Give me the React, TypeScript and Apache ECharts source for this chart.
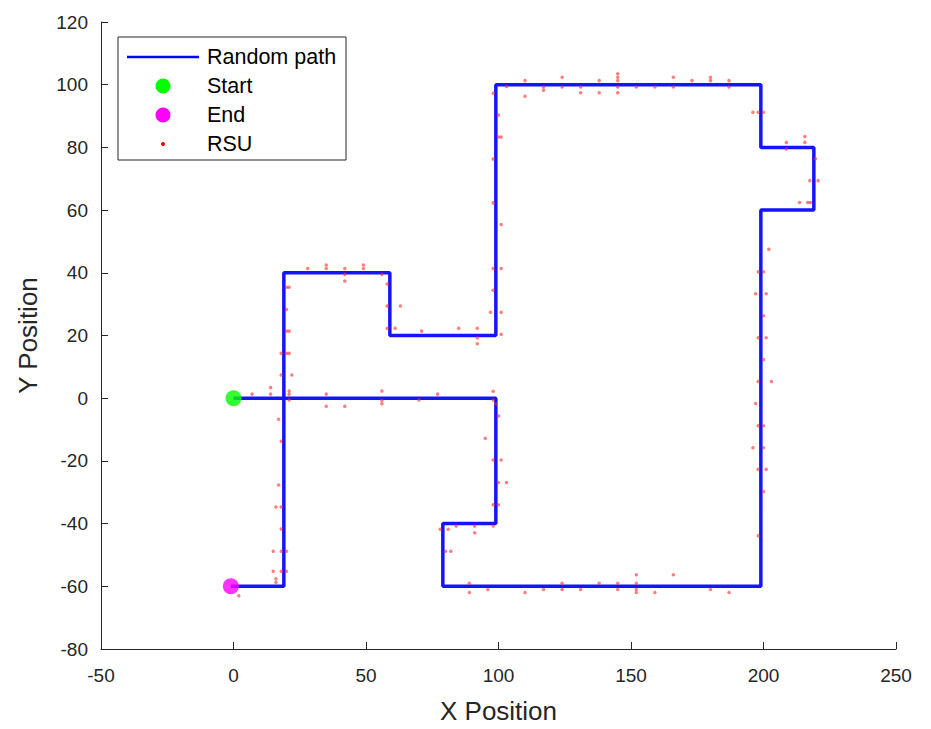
import React, { useEffect, useRef } from "react";
import * as echarts from "echarts";

// Path vertices (random walk corners)
const pathX = [0, 99, 99, 79, 79, 199, 199, 219, 219, 199, 199, 99, 99, 59, 59, 19, 19, -1];
const pathY = [0, 0, -40, -40, -60, -60, 60, 60, 80, 80, 100, 100, 20, 20, 40, 40, -60, -60];

const startPoint = [0, 0];
const endPoint = [-1, -60];

// RSU positions
const rsuX = [
  18, 22, 14, 7, 14, 21, 21, 21, 17, 18, 17, 16, 18, 18, 15, 18, 20, 15, 18, 20, 16, 16, 2,
  20, 21, 20, 20, 21, 18, 20, 21,
  28, 35, 35, 42, 42, 42, 49, 49, 56,
  58, 58, 63, 58, 61,
  71, 85, 92, 92, 92,
  101, 97, 101, 98, 98, 101, 101, 98, 98, 100, 101, 100, 98,
  103, 110, 110, 117, 117, 124, 124, 131, 131, 138, 138, 145, 145, 145, 145, 145, 152, 159, 166, 166, 173, 180, 180, 187, 187,
  196, 198, 200,
  208.6, 208.6, 215.6, 215.6,
  219.6, 217.5, 220.6,
  213.6, 216.7, 217.7,
  202, 198, 200, 197, 201, 200, 198, 201, 200, 198, 203, 197, 198, 200, 196, 200, 198, 201, 200, 198,
  89, 89, 96, 110, 117, 124, 124, 131, 138, 145, 145, 152, 152, 152, 152, 159, 166, 180, 187,
  78, 81, 84, 91, 98, 91, 80, 82, 98, 100, 100, 103, 98, 101, 95, 100, 98, 98, 99,
  35, 35, 42, 56, 56, 56, 70, 77,
];
const rsuY = [
  7.4, 7.4, 3.4, 1.3, 1.3, 2.3, 1.3, -0.6, -6.7, -13.7, -27.7, -34.7, -34.7, -41.7, -48.8, -48.8, -48.8, -55.2, -55.2, -55.2, -57.6, -58.7, -63,
  35.4, 35.4, 28.3, 21.4, 21.4, 14.3, 14.3, 14.3,
  41.4, 42.5, 41.4, 41.4, 39.5, 37.4, 42.5, 41.4, 39.5,
  36.4, 29.4, 29.4, 22.3, 22.3,
  21.4, 22.3, 22.3, 19.3, 17.4,
  20.4, 27.4, 27.4, 34.4, 41.4, 41.4, 55.4, 62.3, 76.3, 83.3, 83.3, 90.3, 97.3,
  99.4, 101.3, 96.3, 99.3, 98.2, 102.4, 99.3, 99.3, 97.4, 101.3, 97.4, 103.5, 102.4, 101.3, 99.3, 97.4, 99.3, 99.3, 102.4, 99.3, 101.3, 102.4, 101.3, 101.3, 99.3,
  91.2, 91.2, 91.2,
  81.6, 79.5, 83.5, 81.6,
  76.4, 69.4, 69.4,
  62.4, 62.4, 62.4,
  47.5, 40.3, 40.3, 33.3, 33.3, 26.3, 19.3, 19.3, 12.3, 5.3, 5.3, -1.7, -8.8, -8.8, -15.8, -15.8, -22.7, -22.7, -29.8, -43.9,
  -59, -62, -61, -62, -61, -59, -61, -61, -59, -59, -61, -56.3, -59, -61, -62, -62, -56.3, -61, -62,
  -41.8, -41.8, -40.8, -40.8, -40.8, -42.9, -48.8, -48.8, -34, -34, -26.9, -26.9, -19.7, -19.7, -12.8, -5.7, -0.6, 2.2, -1.8,
  1.3, -2.6, -2.6, 2.3, -0.7, -1.8, -0.6, 1.3,
];

const legendLabels = ["Random path", "Start", "End", "RSU"];
const xTitle = "X Position";
const yTitle = "Y Position";

const FONT = "'Liberation Sans', Arial, Helvetica, sans-serif";
const AXIS_COLOR = "#262626";

export default function App() {
  const ref = useRef<HTMLDivElement>(null);

  useEffect(() => {
    document.body.style.margin = "0";
    if (!ref.current) return;
    const chart = echarts.init(ref.current, null, { renderer: "svg" });

    const pathData = pathX.map((x, i) => [x, pathY[i]]);
    const rsuData = rsuX.map((x, i) => [x, rsuY[i]]);

    const lx = 118;
    const ly = 37;
    const rowY = [57, 86, 115, 144];

    chart.setOption({
      animation: false,
      backgroundColor: "#ffffff",
      grid: { left: 101, right: 35, top: 22, bottom: 79, containLabel: false },
      xAxis: {
        type: "value",
        min: -50,
        max: 250,
        interval: 50,
        name: xTitle,
        nameLocation: "middle",
        nameGap: 49,
        nameTextStyle: { fontFamily: FONT, fontSize: 26, color: AXIS_COLOR },
        axisLine: { show: true, onZero: false, lineStyle: { color: AXIS_COLOR, width: 1 } },
        axisTick: { show: true, inside: true, length: 7, lineStyle: { color: AXIS_COLOR } },
        axisLabel: { fontFamily: FONT, fontSize: 19, color: AXIS_COLOR, margin: 17 },
        splitLine: { show: false },
      },
      yAxis: {
        type: "value",
        min: -80,
        max: 120,
        interval: 20,
        name: yTitle,
        nameLocation: "middle",
        nameGap: 60,
        nameTextStyle: { fontFamily: FONT, fontSize: 26, color: AXIS_COLOR },
        axisLine: { show: true, onZero: false, lineStyle: { color: AXIS_COLOR, width: 1 } },
        axisTick: { show: true, inside: true, length: 7, lineStyle: { color: AXIS_COLOR } },
        axisLabel: { fontFamily: FONT, fontSize: 19, color: AXIS_COLOR, margin: 13 },
        splitLine: { show: false },
      },
      series: [
        {
          name: legendLabels[0],
          type: "line",
          data: pathData,
          showSymbol: false,
          symbol: "none",
          lineStyle: { color: "#0000ff", width: 3.5, opacity: 0.92 },
          z: 2,
        },
        {
          name: legendLabels[1],
          type: "scatter",
          data: [startPoint],
          symbol: "circle",
          symbolSize: 16,
          itemStyle: { color: "#00ff00" },
          z: 3,
        },
        {
          name: legendLabels[2],
          type: "scatter",
          data: [endPoint],
          symbol: "circle",
          symbolSize: 16,
          itemStyle: { color: "#ff00ff" },
          z: 3,
        },
        {
          name: legendLabels[3],
          type: "scatter",
          data: rsuData,
          symbol: "circle",
          symbolSize: 3.5,
          itemStyle: { color: "rgba(255,40,40,0.75)" },
          z: 4,
        },
      ],
      graphic: [
        {
          type: "rect",
          shape: { x: lx, y: ly, width: 228, height: 123 },
          style: { fill: "#ffffff", stroke: AXIS_COLOR, lineWidth: 1 },
          z: 10,
        },
        {
          type: "line",
          shape: { x1: 127, y1: rowY[0], x2: 199, y2: rowY[0] },
          style: { stroke: "#0000ff", lineWidth: 2.5 },
          z: 11,
        },
        {
          type: "circle",
          shape: { cx: 163, cy: rowY[1], r: 7.5 },
          style: { fill: "#00ff00" },
          z: 11,
        },
        {
          type: "circle",
          shape: { cx: 163, cy: rowY[2], r: 7.5 },
          style: { fill: "#ff00ff" },
          z: 11,
        },
        {
          type: "circle",
          shape: { cx: 163, cy: rowY[3], r: 2 },
          style: { fill: "#ff0000" },
          z: 11,
        },
        ...legendLabels.map((t, i) => ({
          type: "text",
          x: 207,
          y: rowY[i],
          style: {
            text: t,
            fontFamily: FONT,
            fontSize: 21.5,
            fill: "#000000",
            textVerticalAlign: "middle",
            verticalAlign: "middle",
          },
          z: 11,
        })),
      ],
    });

    return () => chart.dispose();
  }, []);

  return <div ref={ref} style={{ width: 931, height: 729 }} />;
}
